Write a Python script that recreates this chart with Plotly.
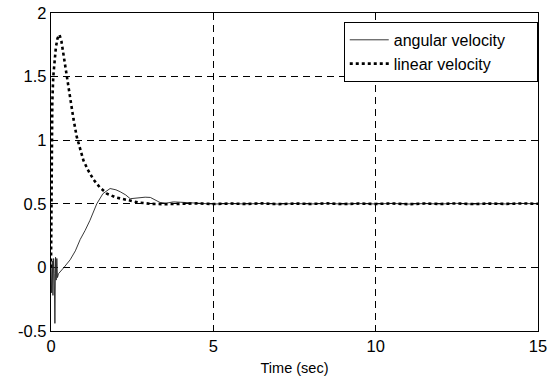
import plotly.graph_objects as go

# Angular velocity (solid)
t_ang = [0, 0.02, 0.04, 0.06, 0.08, 0.10, 0.12, 0.14, 0.16, 0.18, 0.20, 0.23,
         0.4, 0.59, 0.75, 0.9, 1.05, 1.2, 1.41, 1.6, 1.82, 2.0, 2.13, 2.3, 2.44,
         2.6, 2.75, 2.9, 3.06, 3.2, 3.36, 3.55, 3.77, 4.0, 4.19, 4.5, 5.0, 5.5,
         6.0, 6.5, 7.0, 7.5, 8.0, 8.5, 9.0, 9.5, 10.0, 10.5, 11.0, 11.5, 12.0,
         12.5, 13.0, 13.5, 14.0, 14.5, 15.0]
v_ang = [0.0, -0.2, 0.05, -0.22, 0.07, -0.05, -0.44, 0.08, -0.1, 0.07, -0.08, -0.05,
         0.0, 0.06, 0.13, 0.22, 0.29, 0.37, 0.50, 0.58, 0.62, 0.61, 0.595, 0.57, 0.54,
         0.545, 0.55, 0.552, 0.55, 0.53, 0.51, 0.505, 0.515, 0.512, 0.51, 0.503, 0.498, 0.502,
         0.499, 0.503, 0.498, 0.502, 0.499, 0.503, 0.498, 0.502, 0.499, 0.503, 0.498, 0.502, 0.499,
         0.503, 0.498, 0.502, 0.499, 0.503, 0.5]

# Linear velocity (dotted)
t_lin = [0, 0.01, 0.02, 0.04, 0.07, 0.10, 0.15, 0.20, 0.26, 0.32, 0.38, 0.48,
         0.59, 0.69, 0.79, 0.9, 1.0, 1.15, 1.31, 1.5, 1.72, 2.0, 2.34, 2.7, 3.06,
         3.5, 4.0, 4.5, 5.0, 5.5, 6.0, 6.5, 7.0, 7.5, 8.0, 8.5, 9.0, 9.5, 10.0,
         10.5, 11.0, 11.5, 12.0, 12.5, 13.0, 13.5, 14.0, 14.5, 15.0]
v_lin = [0.0, 0.6, 1.1, 1.3, 1.5, 1.62, 1.73, 1.80, 1.83, 1.78, 1.68, 1.50,
         1.32, 1.17, 1.03, 0.92, 0.84, 0.76, 0.69, 0.63, 0.58, 0.55, 0.53, 0.51, 0.50,
         0.497, 0.50, 0.503, 0.498, 0.502, 0.499, 0.503, 0.497, 0.502, 0.499, 0.503, 0.498, 0.502, 0.499,
         0.503, 0.497, 0.502, 0.499, 0.503, 0.498, 0.502, 0.499, 0.503, 0.5]

x_ticks = [0, 5, 10, 15]
y_ticks = [-0.5, 0, 0.5, 1, 1.5, 2]
y_tick_text = ["-0.5", "0", "0.5", "1", "1.5", "2"]
series_names = ["angular velocity", "linear velocity"]

FONT = "Liberation Sans"
PAD = "\u00a0" * 6  # right padding inside the legend box

fig = go.Figure()
fig.add_trace(go.Scatter(x=t_ang, y=v_ang, mode="lines", name=series_names[0] + PAD,
                         line=dict(color="#222222", width=0.9)))
fig.add_trace(go.Scatter(x=t_lin, y=v_lin, mode="lines", name=series_names[1],
                         line=dict(color="black", width=2.6, dash="dot")))

axis_common = dict(showline=True, linecolor="black", linewidth=1.3, mirror=True,
                   showgrid=True, gridcolor="black", gridwidth=0.8, griddash="7px,5px",
                   zeroline=False, ticks="", automargin=False,
                   tickfont=dict(family=FONT, size=16.5, color="black"))

fig.update_xaxes(range=[0, 15], tickvals=x_ticks, ticktext=[str(v) for v in x_ticks],
                 title=dict(text="Time (sec)", font=dict(family=FONT, size=14.5, color="black"),
                            standoff=8),
                 **axis_common)
fig.update_yaxes(range=[-0.5, 2], tickvals=y_ticks, ticktext=y_tick_text, **axis_common)

fig.update_layout(
    width=555, height=382,
    margin=dict(l=51, r=17, t=13, b=51, pad=0),
    plot_bgcolor="white", paper_bgcolor="white",
    showlegend=True,
    legend=dict(x=0.9995, y=0.972, xanchor="right", yanchor="top",
                bgcolor="white", bordercolor="black", borderwidth=1,
                font=dict(family=FONT, size=16, color="black"),
                tracegroupgap=0, itemwidth=39),
)

fig.write_html("out.html", config={"displayModeBar": False},
               post_script="document.body.style.margin='0';")
